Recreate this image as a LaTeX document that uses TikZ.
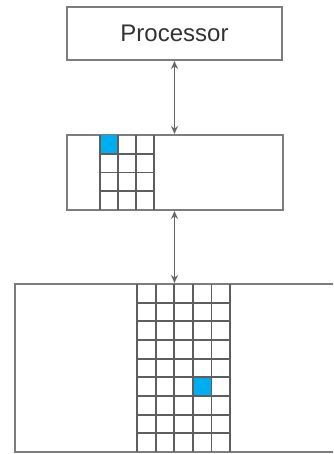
\documentclass[tikz,border=0pt]{standalone}
\usepackage{fontspec}
\setmainfont{Liberation Sans}
\usetikzlibrary{positioning, arrows.meta, calc}
\definecolor{linegray}{RGB}{125,125,125}
\definecolor{blockblue}{RGB}{0,174,239}

\tikzset{
    unitbox/.style={draw=linegray, line width=2pt, fill=white, inner sep=0pt},
    gridline/.style={draw=linegray!75!black, line width=1.8pt},
    busarrow/.style={{Stealth[length=8pt, width=7pt]}-{Stealth[length=8pt, width=7pt]}, line width=1.6pt, draw=black!60}
}

\begin{document}
\begin{tikzpicture}[x=1pt, y=-1pt]
    \useasboundingbox (0,0) rectangle (333,454);
    \clip (0,0) rectangle (333,454);

    % === PROCESSEUR ===
    \node[unitbox, minimum width=215pt, minimum height=53pt,
          font=\fontsize{24}{28}\selectfont, text=black!80] (proc) at (174.5,33.5) {Processor};

    % === CACHE (3 x 4 blocs) ===
    \node[unitbox, minimum width=216pt, minimum height=75pt] (cache) at (174.5,172.5) {};
    \fill[blockblue] (100,135) rectangle (118,153.75);
    \foreach \i in {1,2,3} {
        \draw[gridline] (100+18*\i,135) -- (100+18*\i,210);
    }
    \draw[gridline] (100,135) -- (100,210);
    \foreach \j in {1,2,3} {
        \draw[gridline] (100,135+18.75*\j) -- (154,135+18.75*\j);
    }

    % === MEMOIRE PRINCIPALE (5 x 9 blocs) ===
    \node[unitbox, minimum width=340pt, minimum height=168pt] (mem) at (185,368) {};
    \fill[blockblue] (193,377.3) rectangle (211.6,396);
    \foreach \i in {0,...,5} {
        \draw[gridline] (137+18.6*\i,284) -- (137+18.6*\i,452);
    }
    \foreach \j in {1,...,8} {
        \draw[gridline] (137,284+18.67*\j) -- (230,284+18.67*\j);
    }

    % === BUS ===
    \draw[busarrow] (proc.south) -- (cache.north);
    \draw[busarrow] (cache.south) -- (cache.south |- mem.north);

\end{tikzpicture}
\end{document}
